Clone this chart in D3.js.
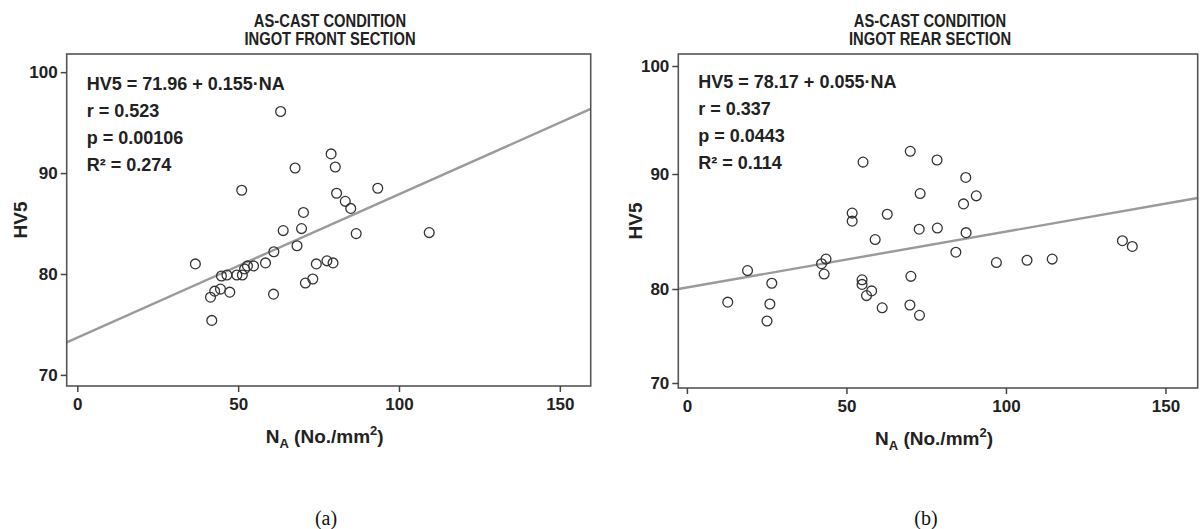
<!DOCTYPE html>
<html>
<head>
<meta charset="utf-8">
<script src="https://cdn.jsdelivr.net/npm/d3@7"></script>
<style>
  body { margin: 0; background: #fff; }
  svg text { font-family: "Liberation Sans", Arial, sans-serif; }
</style>
</head>
<body>
<div id="chart"></div>
<script>
// data
var frontNA = [63.2, 67.7, 51.1, 64.0, 68.3, 61.1, 36.7, 58.5, 54.8, 52.0, 52.9, 44.8, 46.5, 49.6, 51.3, 41.4, 42.7, 44.5,
               47.4, 61.0, 78.9, 80.2, 80.6, 93.4, 83.3, 85.0, 70.3, 69.7, 86.7, 109.4, 74.3, 77.6, 79.5, 73.2, 70.9, 41.8];
var frontHV = [96.1, 90.5, 88.3, 84.3, 82.8, 82.2, 81.0, 81.1, 80.8, 80.5, 80.8, 79.8, 79.9, 79.9, 79.9, 77.7, 78.3, 78.5,
               78.2, 78.0, 91.9, 90.6, 88.0, 88.5, 87.2, 86.5, 86.1, 84.5, 84.0, 84.1, 81.0, 81.3, 81.1, 79.5, 79.1, 75.4];
var rearNA = [55.2, 51.8, 51.8, 62.8, 59.0, 43.6, 42.2, 43.0, 19.0, 26.6, 54.9, 54.9, 57.9, 56.3, 61.2, 12.8, 26.0, 25.1,
              70.0, 78.4, 87.4, 73.1, 90.7, 86.7, 72.8, 78.5, 87.5, 84.3, 97.0, 106.6, 114.5, 136.5, 139.6, 70.2, 69.9, 72.9];
var rearHV = [91.1, 86.6, 85.9, 86.5, 84.3, 82.6, 82.2, 81.3, 81.6, 80.5, 80.8, 80.4, 79.8, 79.3, 78.0, 78.6, 78.4, 76.6,
              92.1, 91.3, 89.7, 88.3, 88.1, 87.4, 85.2, 85.3, 84.9, 83.2, 82.3, 82.5, 82.6, 84.2, 83.7, 81.1, 78.3, 77.2];

// fitted lines as drawn: [intercept, slope]
var frontFit = [73.7, 0.142];
var rearFit = [80.13, 0.0486];

var xTicks = [0, 50, 100, 150];
var yTicks = [70, 80, 90, 100];

var frontTitle = ["AS-CAST CONDITION", "INGOT FRONT SECTION"];
var rearTitle = ["AS-CAST CONDITION", "INGOT REAR SECTION"];
var frontStats = ["HV5 = 71.96 + 0.155\u00b7NA", "r = 0.523", "p = 0.00106", "R\u00b2 = 0.274"];
var rearStats = ["HV5 = 78.17 + 0.055\u00b7NA", "r = 0.337", "p = 0.0443", "R\u00b2 = 0.114"];

var svg = d3.select("#chart").append("svg").attr("width", 1200).attr("height", 529);
svg.append("rect").attr("width", 1200).attr("height", 529).attr("fill", "#fff");

function panel(opt) {
  var x = d3.scaleLinear().domain(opt.xDom).range([opt.left, opt.right]);
  var y = d3.scaleLinear().domain(opt.yDom).range(opt.yRange);
  var top = opt.top, bottom = opt.bottom;
  var g = svg.append("g");

  // fit line
  var x0 = opt.xDom[0], x1 = opt.xDom[1];
  g.append("line")
    .attr("x1", x(x0)).attr("y1", y(opt.fit[0] + opt.fit[1] * x0))
    .attr("x2", x(x1)).attr("y2", y(opt.fit[0] + opt.fit[1] * x1))
    .style("stroke", "#9a9a9a").style("stroke-width", 2.4);

  // points
  g.selectAll("circle").data(opt.na).enter().append("circle")
    .attr("cx", function(d) { return x(d); })
    .attr("cy", function(d, i) { return y(opt.hv[i]); })
    .attr("r", 4.9)
    .style("fill", "none").style("stroke", "#333").style("stroke-width", 1.3);

  // frame
  g.append("rect").attr("x", opt.left).attr("y", top)
    .attr("width", opt.right - opt.left).attr("height", bottom - top)
    .style("fill", "none").style("stroke", "#555").style("stroke-width", 1.6);

  var ax = g.append("g").attr("transform", "translate(0," + bottom + ")")
    .call(d3.axisBottom(x).tickValues(xTicks).tickSize(6).tickPadding(6));
  var ay = g.append("g").attr("transform", "translate(" + opt.left + ",0)")
    .call(d3.axisLeft(y).tickValues(yTicks).tickSize(6).tickPadding(3));
  [ax, ay].forEach(function(a) {
    a.select(".domain").remove();
    a.selectAll(".tick line").style("stroke", "#444").style("stroke-width", 1.5);
    a.selectAll(".tick text").style("font-size", "17px").style("font-weight", "bold").style("fill", "#222")
      .style("font-family", "Liberation Sans, Arial, sans-serif");
  });

  // titles (condensed)
  var cx = opt.titleX;
  g.selectAll("text.title").data(opt.title).enter().append("text").attr("class", "title")
    .attr("transform", function(d, i) { return "translate(" + cx + "," + (27 + i * 18) + ") scale(0.82,1)"; })
    .attr("text-anchor", "middle").style("font-size", "18px").style("font-weight", "bold").style("fill", "#222")
    .text(function(d) { return d; });

  // stats
  g.selectAll("text.stat").data(opt.stats).enter().append("text").attr("class", "stat")
    .attr("x", opt.left + 20).attr("y", function(d, i) { return opt.statY + i * 27; })
    .style("font-size", "18px").style("font-weight", "bold").style("fill", "#222")
    .text(function(d) { return d; });

  // axis titles
  var xt = g.append("text").attr("x", (opt.left + opt.right) / 2 - 4).attr("y", opt.xTitleY)
    .attr("text-anchor", "middle").style("font-size", "19px").style("font-weight", "bold").style("fill", "#222");
  xt.append("tspan").text("N");
  xt.append("tspan").attr("dy", 5).style("font-size", "13px").text("A");
  xt.append("tspan").attr("dy", -5).text(" (No./mm");
  xt.append("tspan").attr("dy", -8).style("font-size", "13px").text("2");
  xt.append("tspan").attr("dy", 8).text(")");

  g.append("text").attr("transform", "translate(" + opt.yTitleX + "," + ((top + bottom) / 2) + ") rotate(-90)")
    .attr("text-anchor", "middle").style("font-size", "19px").style("font-weight", "bold").style("fill", "#222")
    .text("HV5");

  g.append("text").attr("x", opt.titleX - 4).attr("y", 525).attr("text-anchor", "middle")
    .style("font-family", "Liberation Serif, Times New Roman, serif").style("font-size", "20px").style("fill", "#111")
    .text(opt.label);
}

panel({
  na: frontNA, hv: frontHV, fit: frontFit, title: frontTitle, stats: frontStats, label: "(a)",
  xDom: [-3.3, 159.6], left: 66.7, right: 590.7,
  yDom: [68.9, 101.8], yRange: [386, 54], top: 54, bottom: 386,
  titleX: 330, statY: 90, xTitleY: 443, yTitleX: 27
});

panel({
  na: rearNA, hv: rearHV, fit: rearFit, title: rearTitle, stats: rearStats, label: "(b)",
  xDom: [-2.7, 160.1], left: 678.3, right: 1197.7,
  yDom: [69.47, 70, 80, 90, 100, 101.1], yRange: [388, 383, 289, 174, 66, 54], top: 54, bottom: 388,
  titleX: 930, statY: 88, xTitleY: 445, yTitleX: 642
});
</script>
</body>
</html>
